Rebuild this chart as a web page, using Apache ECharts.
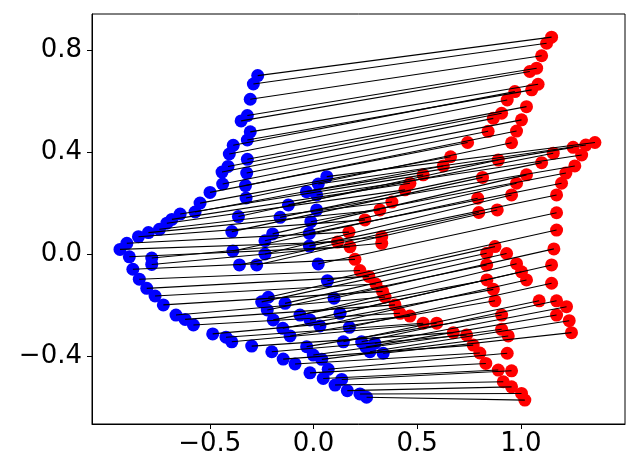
<!DOCTYPE html>
<html>
<head>
<meta charset="utf-8">
<script src="https://cdn.jsdelivr.net/npm/echarts@6/dist/echarts.min.js"></script>
<style>
html,body{margin:0;padding:0;background:#fff;}
#chart{width:640px;height:476px;}
</style>
</head>
<body>
<div id="chart"></div>
<script>
// Source (blue) point set, index i pairs with target (red) point i
var blueX = [-0.269,-0.290,-0.305,-0.319,-0.349,-0.305,-0.319,-0.387,-0.406,-0.319,-0.412,-0.441,-0.322,-0.438,-0.328,-0.499,-0.325,
  -0.547,-0.571,-0.643,-0.683,-0.707,-0.743,-0.796,-0.844,-0.900,-0.933,
  -0.888,-0.871,-0.840,-0.804,-0.764,-0.724,-0.663,-0.619,-0.579,-0.486,-0.422,-0.394,-0.298,-0.201,-0.146,-0.089,-0.017,0.047,0.104,0.163,0.224,0.256,
  -0.780,-0.780,
  -0.362,-0.394,-0.389,-0.357,-0.274,-0.234,-0.234,-0.197,-0.161,-0.121,-0.034,0.023,0.064,
  0.015,0.015,-0.013,-0.020,-0.020,0.023,0.067,0.099,0.128,0.173,0.144,0.232,0.296,0.253,0.272,0.336,
  -0.218,-0.137,-0.065,-0.017,0.031,-0.250,-0.223,-0.194,-0.148,-0.113,-0.033,-0.001,0.040,0.071,0.136];
var blueY = [0.701,0.668,0.608,0.544,0.523,0.480,0.448,0.427,0.393,0.372,0.344,0.322,0.318,0.275,0.269,0.242,0.220,
  0.200,0.165,0.157,0.136,0.121,0.097,0.084,0.068,0.042,0.018,
  -0.011,-0.060,-0.099,-0.135,-0.165,-0.200,-0.240,-0.257,-0.279,-0.314,-0.327,-0.345,-0.362,-0.384,-0.413,-0.432,-0.467,-0.489,-0.515,-0.537,-0.550,-0.563,
  -0.016,-0.041,
  0.147,0.088,0.012,-0.043,-0.043,0.000,0.052,0.079,0.144,0.193,0.245,0.275,0.304,
  0.232,0.173,0.127,0.081,0.031,-0.039,-0.105,-0.174,-0.233,-0.288,-0.345,-0.345,-0.351,-0.366,-0.384,-0.390,
  -0.170,-0.194,-0.240,-0.259,-0.283,-0.188,-0.220,-0.259,-0.292,-0.322,-0.364,-0.397,-0.414,-0.453,-0.493];
var redX = [1.148,1.124,1.100,1.076,1.043,1.083,1.052,0.971,0.934,1.027,0.907,0.867,1.003,0.842,0.979,0.743,0.955,
  0.661,0.626,0.529,0.465,0.441,0.378,0.320,0.248,0.171,0.116,
  0.176,0.200,0.224,0.267,0.301,0.333,0.345,0.393,0.417,0.465,0.529,0.594,0.674,0.738,0.770,0.802,0.831,0.891,0.915,0.955,1.003,1.019,
  0.329,0.329,
  0.891,0.815,0.792,0.797,0.886,0.955,0.979,1.027,1.100,1.156,1.252,1.313,1.357,
  1.293,1.260,1.217,1.196,1.172,1.172,1.172,1.159,1.148,1.148,1.088,1.172,1.220,1.172,1.233,1.244,
  0.875,0.931,0.979,1.003,1.027,0.835,0.835,0.836,0.867,0.875,0.907,0.907,0.939,0.934,0.955];
var redY = [0.852,0.828,0.779,0.730,0.717,0.667,0.645,0.638,0.605,0.579,0.553,0.533,0.527,0.482,0.483,0.438,0.437,
  0.382,0.346,0.311,0.278,0.252,0.204,0.173,0.134,0.086,0.047,
  0.028,-0.021,-0.065,-0.088,-0.118,-0.147,-0.169,-0.200,-0.233,-0.244,-0.272,-0.272,-0.309,-0.318,-0.358,-0.389,-0.430,-0.456,-0.502,-0.522,-0.548,-0.574,
  0.068,0.042,
  0.369,0.301,0.219,0.163,0.173,0.232,0.278,0.311,0.359,0.396,0.419,0.428,0.438,
  0.389,0.346,0.318,0.278,0.232,0.162,0.094,0.020,-0.043,-0.115,-0.184,-0.184,-0.207,-0.240,-0.262,-0.309,
  0.029,0.002,-0.038,-0.070,-0.102,0.003,-0.043,-0.102,-0.139,-0.184,-0.240,-0.296,-0.322,-0.390,-0.459];
var xTicks = [-0.5, 0.0, 0.5, 1.0];
var yTicks = [-0.4, 0.0, 0.4, 0.8];

var bluePts = blueX.map(function(x,i){return [x, blueY[i]];});
var redPts = redX.map(function(x,i){return [x, redY[i]];});
var n = Math.min(bluePts.length, redPts.length);
var links = [];
for (var i = 0; i < n; i++) links.push({coords: [bluePts[i], redPts[i]]});

function fmt(v){ var s = Number(v).toFixed(1); return s.replace('-', '\u2212'); }
var font = 'DejaVu Sans';
var chart = echarts.init(document.getElementById('chart'), null, {renderer:'canvas'});
chart.setOption({
  animation: false,
  backgroundColor: '#ffffff',
  grid: {left: 92, right: 15, top: 14, bottom: 52, show: true, borderColor: '#000', borderWidth: 1, backgroundColor: 'transparent'},
  xAxis: {
    type: 'value', min: -1.068, max: 1.502,
    axisLine: {show: true, onZero: false, lineStyle: {color: '#000', width: 1}},
    splitLine: {show: false},
    axisTick: {show: true, inside: false, length: 5, lineStyle: {color: '#000', width: 1}, customValues: xTicks},
    axisLabel: {color: '#000', fontSize: 26, fontFamily: font, margin: 7, customValues: xTicks, formatter: fmt}
  },
  yAxis: {
    type: 'value', min: -0.668, max: 0.943,
    axisLine: {show: true, onZero: false, lineStyle: {color: '#000', width: 1}},
    splitLine: {show: false},
    axisTick: {show: true, inside: false, length: 5, lineStyle: {color: '#000', width: 1}, customValues: yTicks},
    axisLabel: {color: '#000', fontSize: 26, fontFamily: font, margin: 10, customValues: yTicks, formatter: fmt}
  },
  series: [
    {type: 'scatter', data: bluePts, symbolSize: 13, itemStyle: {color: '#0000ff', opacity: 1}, z: 2, silent: true},
    {type: 'scatter', data: redPts, symbolSize: 13, itemStyle: {color: '#ff0000', opacity: 1}, z: 3, silent: true},
    {type: 'lines', coordinateSystem: 'cartesian2d', data: links, lineStyle: {color: '#000', width: 1.1, opacity: 1, curveness: 0}, z: 4, silent: true}
  ]
});
</script>
</body>
</html>
